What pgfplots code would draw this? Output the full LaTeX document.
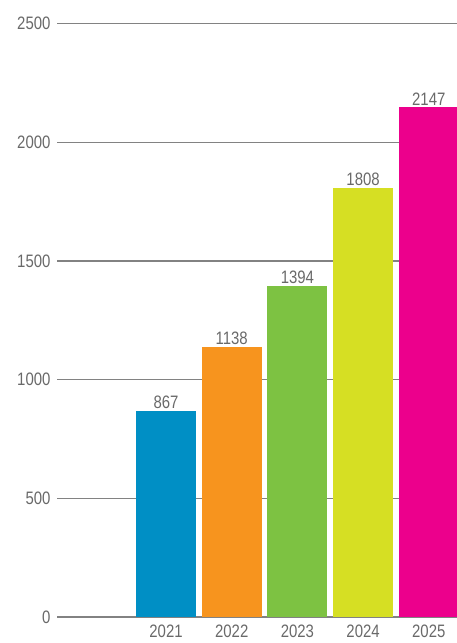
\documentclass[border=0pt]{standalone}
\usepackage{fontspec}
\setmainfont{Liberation Sans}[FakeStretch=0.83]
\usepackage{pgfplots}
\pgfplotsset{compat=1.18}

\definecolor{cBlue}{RGB}{0,143,197}
\definecolor{cOrange}{RGB}{247,148,30}
\definecolor{cGreen}{RGB}{125,194,66}
\definecolor{cLime}{RGB}{214,223,35}
\definecolor{cPink}{RGB}{236,0,140}
\definecolor{txtgray}{RGB}{105,105,105}
\definecolor{gridgray}{RGB}{130,130,130}

\begin{document}
\begin{tikzpicture}
\useasboundingbox (0,0) rectangle (457pt,643pt);
\begin{axis}[
    at={(57pt,26pt)}, anchor=south west,
    scale only axis, width=400pt, height=617pt,
    xmin=-1.66, xmax=4.43,
    ymin=0, ymax=2600,
    ybar, bar width=60pt, bar shift=0pt,
    axis line style={draw=none},
    major tick length=0pt,
    xtick={0,1,2,3,4},
    xticklabels={2021,2022,2023,2024,2025},
    ytick={0,500,1000,1500,2000,2500},
    ymajorgrids=true,
    grid style={gridgray, line width=1.3pt},
    tick label style={font=\fontsize{18}{21}\selectfont, text=txtgray},
    xticklabel style={yshift=-4pt},
    yticklabel style={xshift=-3pt},
    /pgf/number format/assume math mode=true,
    /pgf/number format/1000 sep={},
    nodes near coords,
    nodes near coords style={font=\fontsize{18}{21}\selectfont, text=txtgray, inner sep=2pt},
]
    %% one plot per year, each its own colour
    \addplot[fill=cBlue, draw=none] coordinates {(0,867)};
    \addplot[fill=cOrange, draw=none] coordinates {(1,1138)};
    \addplot[fill=cGreen, draw=none] coordinates {(2,1394)};
    \addplot[fill=cLime, draw=none] coordinates {(3,1808)};
    \addplot[fill=cPink, draw=none] coordinates {(4,2147)};
\end{axis}
\end{tikzpicture}
\end{document}
